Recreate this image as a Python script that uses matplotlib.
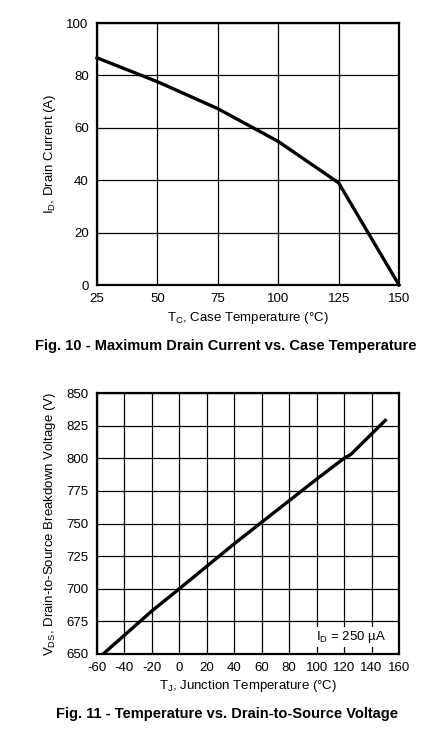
import matplotlib
matplotlib.use('Agg')
import matplotlib.pyplot as plt

plt.rcParams['font.family'] = ['Liberation Sans', 'DejaVu Sans']
plt.rcParams['axes.unicode_minus'] = False

# Fig. 10 data
tc = [25, 50, 75, 100, 125, 150]
id_max = [86.7, 77.6, 67.3, 54.8, 39.0, 0.0]
tc_ticks = [25, 50, 75, 100, 125, 150]
id_ticks = [0, 20, 40, 60, 80, 100]

# Fig. 11 data
tj = [-55, -20, 0, 40, 60, 100, 120, 125, 150]
vds = [650.5, 683, 700, 734.5, 751, 784, 800, 803, 829]
tj_ticks = [-60, -40, -20, 0, 20, 40, 60, 80, 100, 120, 140, 160]
vds_ticks = [650, 675, 700, 725, 750, 775, 800, 825, 850]

W, H = 432, 739
fig = plt.figure(figsize=(W / 100, H / 100), dpi=100)


def style(ax, xt, yt):
    ax.set_xticks(xt)
    ax.set_yticks(yt)
    ax.set_xlim(xt[0], xt[-1])
    ax.set_ylim(yt[0], yt[-1])
    ax.grid(True, color='black', linewidth=0.9)
    ax.set_axisbelow(True)
    ax.tick_params(length=0, labelsize=9.5, pad=6)
    for s in ax.spines.values():
        s.set_linewidth(1.6)


# top chart
ax1 = fig.add_axes([97 / W, 1 - 285 / H, 302 / W, 262 / H])
style(ax1, tc_ticks, id_ticks)
ax1.plot(tc, id_max, color='black', linewidth=2.4, solid_joinstyle='miter', clip_on=False, zorder=3)
ax1.set_xlabel('T$_\\mathregular{C}$, Case Temperature (°C)', fontsize=9.5, labelpad=3)
ax1.set_ylabel('I$_\\mathregular{D}$, Drain Current (A)', fontsize=9.5, labelpad=6)
fig.text(226 / W, 1 - 346 / H, 'Fig. 10 - Maximum Drain Current vs. Case Temperature',
         ha='center', va='center', fontsize=10.5, fontweight='bold')

# bottom chart
ax2 = fig.add_axes([97 / W, 1 - 654 / H, 302 / W, 261 / H])
style(ax2, tj_ticks, vds_ticks)
ax2.plot(tj, vds, color='black', linewidth=2.4, zorder=3)
ax2.set_xlabel('T$_\\mathregular{J}$, Junction Temperature (°C)', fontsize=9.5, labelpad=3)
ax2.set_ylabel('V$_\\mathregular{DS}$, Drain-to-Source Breakdown Voltage (V)', fontsize=9.5, labelpad=6)
ax2.text(0.958, 0.065, 'I$_\\mathregular{D}$ = 250 µA', transform=ax2.transAxes,
         ha='right', va='center', fontsize=9.5, zorder=4,
         bbox=dict(facecolor='white', edgecolor='none', pad=1.5))
fig.text(227 / W, 1 - 714 / H, 'Fig. 11 - Temperature vs. Drain-to-Source Voltage',
         ha='center', va='center', fontsize=10.5, fontweight='bold')

fig.savefig('out.png', dpi=100, facecolor='white')
